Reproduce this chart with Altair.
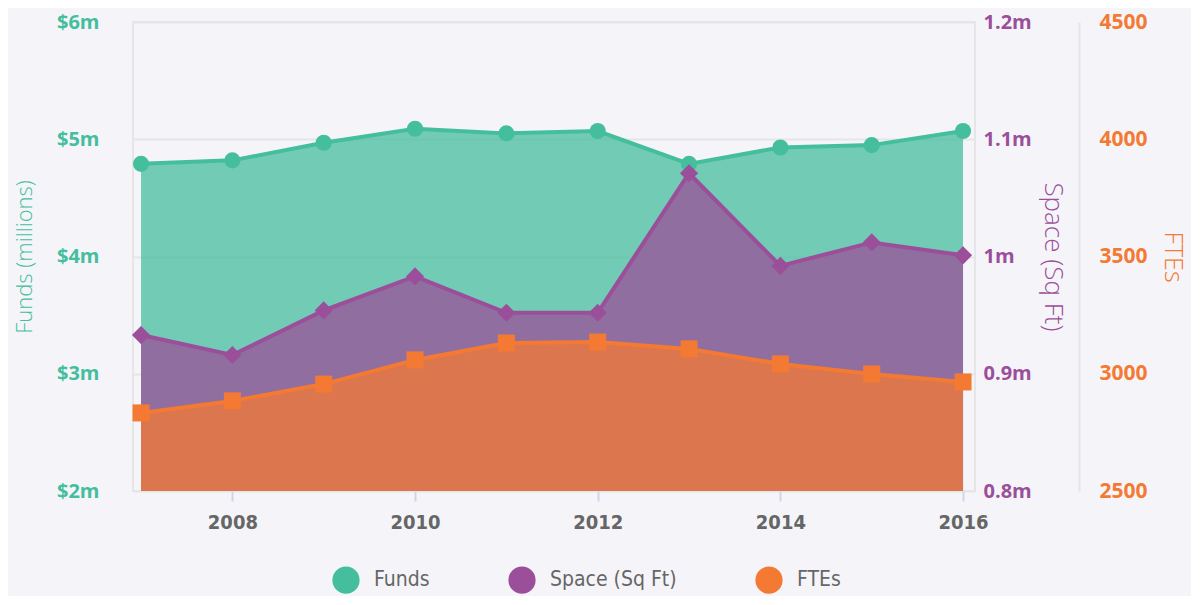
import altair as alt
import pandas as pd

years = [2007, 2008, 2009, 2010, 2011, 2012, 2013, 2014, 2015, 2016]
funds = [4.79, 4.82, 4.97, 5.09, 5.05, 5.07, 4.79, 4.93, 4.95, 5.07]
space = [0.933, 0.916, 0.954, 0.983, 0.952, 0.952, 1.071, 0.992, 1.012, 1.001]
ftes = [2833, 2884, 2956, 3059, 3131, 3135, 3106, 3042, 2999, 2965]

series_names = ["Funds", "Space (Sq Ft)", "FTEs"]
series_colors = ["#45be9e", "#9b4f9a", "#f47a33"]

TEAL, PURPLE, ORANGE = series_colors
GRID = "#e6e6e6"
NARROW = "Liberation Sans Narrow, DejaVu Sans Condensed, Roboto, sans-serif"
ROUND = "Open Sans, Lato, sans-serif"

def frame(values, name, base):
    return pd.DataFrame({"year": years, "value": values, "series": name, "base": base})

df_f = frame(funds, "Funds", 2.0)
df_s = frame(space, "Space (Sq Ft)", 0.8)
df_t = frame(ftes, "FTEs", 2500)

x_enc = alt.X(
    "year:Q",
    scale=alt.Scale(domain=[2006.912, 2016.131], nice=False, zero=False),
    axis=alt.Axis(
        values=[2008, 2010, 2012, 2014, 2016], format="d", title=None,
        domain=False, grid=False, ticks=True, tickColor="#ccd6eb",
        tickWidth=2, tickSize=10, labelColor="#666666",
        labelFont=NARROW, labelFontSize=20,
        labelFontWeight="bold", labelPadding=11,
    ),
)

color_enc = alt.Color(
    "series:N",
    scale=alt.Scale(domain=series_names, range=series_colors),
    legend=alt.Legend(
        title=None, orient="none", direction="horizontal",
        legendX=199, legendY=544,
        symbolType="circle", symbolSize=740, symbolStrokeWidth=0,
        labelFont=NARROW, labelFontSize=21,
        labelColor="#666666", columnPadding=78, labelOffset=14,
    ),
)


def series_layer(df, color, shape, psize, domain, axis):
    y_enc = alt.Y("value:Q", scale=alt.Scale(domain=domain, nice=False, zero=False), axis=axis)
    base = alt.Chart(df).encode(x=x_enc, y=y_enc)
    area = base.mark_area(color=color, opacity=0.75).encode(y2="base:Q")
    line = base.mark_line(color=color, strokeWidth=4)
    pts = base.mark_point(shape=shape, filled=True, size=psize, opacity=1).encode(color=color_enc)
    return alt.layer(area, line, pts)


funds_axis = alt.Axis(
    values=[2, 3, 4, 5, 6], labelExpr="'$' + datum.value + 'm'",
    title="Funds (millions)", titleColor=TEAL, titleFont=ROUND,
    titleFontSize=22, titleFontWeight=300, titlePadding=20,
    labelColor=TEAL, labelFont=ROUND, labelFontSize=20, labelFontWeight="bold",
    labelPadding=34, ticks=False, domain=False, grid=True, gridColor=GRID,
    gridWidth=2, orient="left",
)
space_axis = alt.Axis(
    values=[0.8, 0.9, 1.0, 1.1, 1.2], labelExpr="datum.value + 'm'",
    title="Space (Sq Ft)", titleColor=PURPLE, titleFont=ROUND,
    titleFontSize=26, titleFontWeight=300, titlePadding=8, titleAngle=90,
    labelColor=PURPLE, labelFont=ROUND, labelFontSize=20, labelFontWeight="bold",
    labelPadding=8, ticks=False, domain=False, grid=False, orient="right",
)
fte_axis = alt.Axis(
    values=[2500, 3000, 3500, 4000, 4500], format="d",
    title="FTEs", titleColor=ORANGE, titleFont=ROUND,
    titleFontSize=25, titleFontWeight=300, titlePadding=12, titleAngle=90,
    labelColor=ORANGE, labelFont=ROUND, labelFontSize=21, labelFontWeight="bold",
    labelPadding=20, ticks=False, domain=True, domainColor=GRID, domainWidth=2,
    grid=False, orient="right", offset=104,
)

chart = alt.layer(
    series_layer(df_f, TEAL, "circle", 260, [2, 6], funds_axis),
    series_layer(df_s, PURPLE, "diamond", 330, [0.8, 1.2], space_axis),
    series_layer(df_t, ORANGE, "square", 290, [2500, 4500], fte_axis),
).resolve_scale(y="independent").properties(
    width=842, height=469,
    autosize=alt.AutoSizeParams(type="none"),
    padding={"left": 125, "top": 14, "right": 216, "bottom": 105},
    background="#f5f5f9",
).configure_view(stroke=GRID, strokeWidth=2)

chart.save("out.html", embed_options={"renderer": "svg", "actions": False})
